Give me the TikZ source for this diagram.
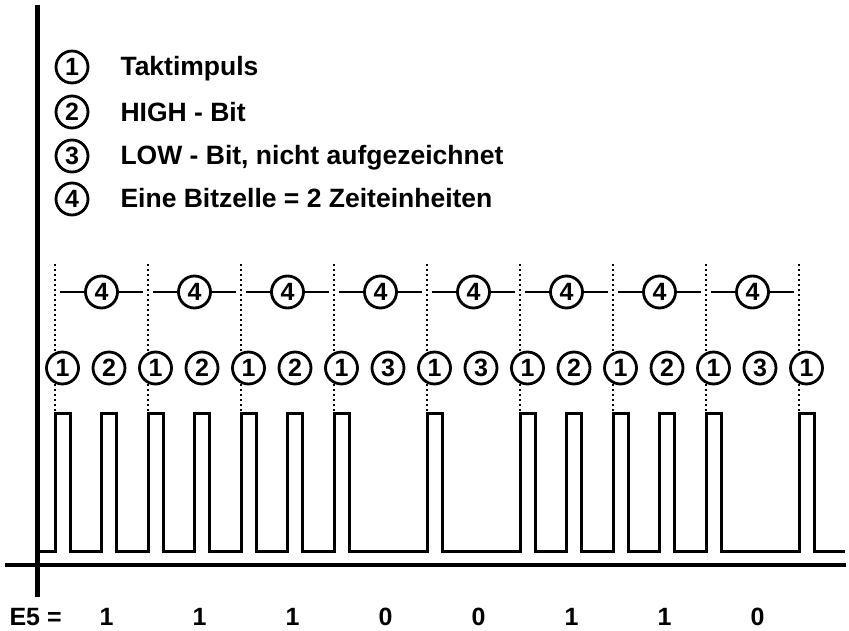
\documentclass[tikz,border=0pt]{standalone}
\usepackage{fontspec}
\setmainfont{Liberation Sans}

\begin{document}
\begin{tikzpicture}[x=1pt,y=-1pt,
    nr/.style={circle,draw,line width=2.8pt,fill=white,inner sep=0pt,minimum size=32pt,font=\fontsize{25}{25}\selectfont\bfseries},
    lbl/.style={anchor=base west,font=\fontsize{26.5}{26.5}\selectfont\bfseries},
    bit/.style={font=\fontsize{25}{25}\selectfont\bfseries},
    sig/.style={line width=3pt,line join=miter},
    tick/.style={line width=2.4pt,dash pattern=on 2.4pt off 2.6pt}]
    \useasboundingbox (0,0) rectangle (849,631);
    % axes
    \draw [line width=5pt] (37,5)--(37,597);
    \draw [line width=4pt] (5,565)--(846,565);
    % legend
    \node [nr] (L1) at (72,67) {1};
    \node [lbl] (T1) at (117,76) {Taktimpuls};
    \node [nr] (L2) at (72,112) {2};
    \node [lbl] (T2) at (117,122) {HIGH - Bit};
    \node [nr] (L3) at (72,156) {3};
    \node [lbl] (T3) at (117,165) {LOW - Bit, nicht aufgezeichnet};
    \node [nr] (L4) at (72,199) {4};
    \node [lbl] (T4) at (117,208) {Eine Bitzelle = 2 Zeiteinheiten};
    % clock marks
    \foreach \x in {55,148,...,799}
        \draw [tick] (\x,264)--(\x,413);
    % bit cells
    \foreach \k in {0,...,7} {
        \node [nr] (Z\k) at ({101.5+93*\k},292) {4};
        \coordinate (A\k) at ({60+93*\k},292);
        \coordinate (B\k) at ({143+93*\k},292);
        \draw [line width=2.6pt] (A\k)--(Z\k);
        \draw [line width=2.6pt] (Z\k)--(B\k);
    }
    % signal
    \draw [sig] (40,551)
        foreach \x in {55,101.5,148,194.5,241,287.5,334,427,520,566.5,613,659.5,706,799}
        { -- (\x,551) -- (\x,413) -- (\x+15,413) -- (\x+15,551) } -- (845,551);
    % pulse labels
    \foreach \k in {0,...,8}
        \node [nr] (C\k) at ({62.5+93*\k},368) {1};
    \foreach \b [count=\k from 0] in {2,2,2,3,3,2,2,3}
        \node [nr] (D\k) at ({109+93*\k},368) {\b};
    % bit values
    \node [bit,anchor=west] (E5) at (6,617) {E5 =};
    \foreach \b [count=\k from 0] in {1,1,1,0,0,1,1,0}
        \node [bit] (V\k) at ({106.5+93*\k},617) {\b};
\end{tikzpicture}
\end{document}
